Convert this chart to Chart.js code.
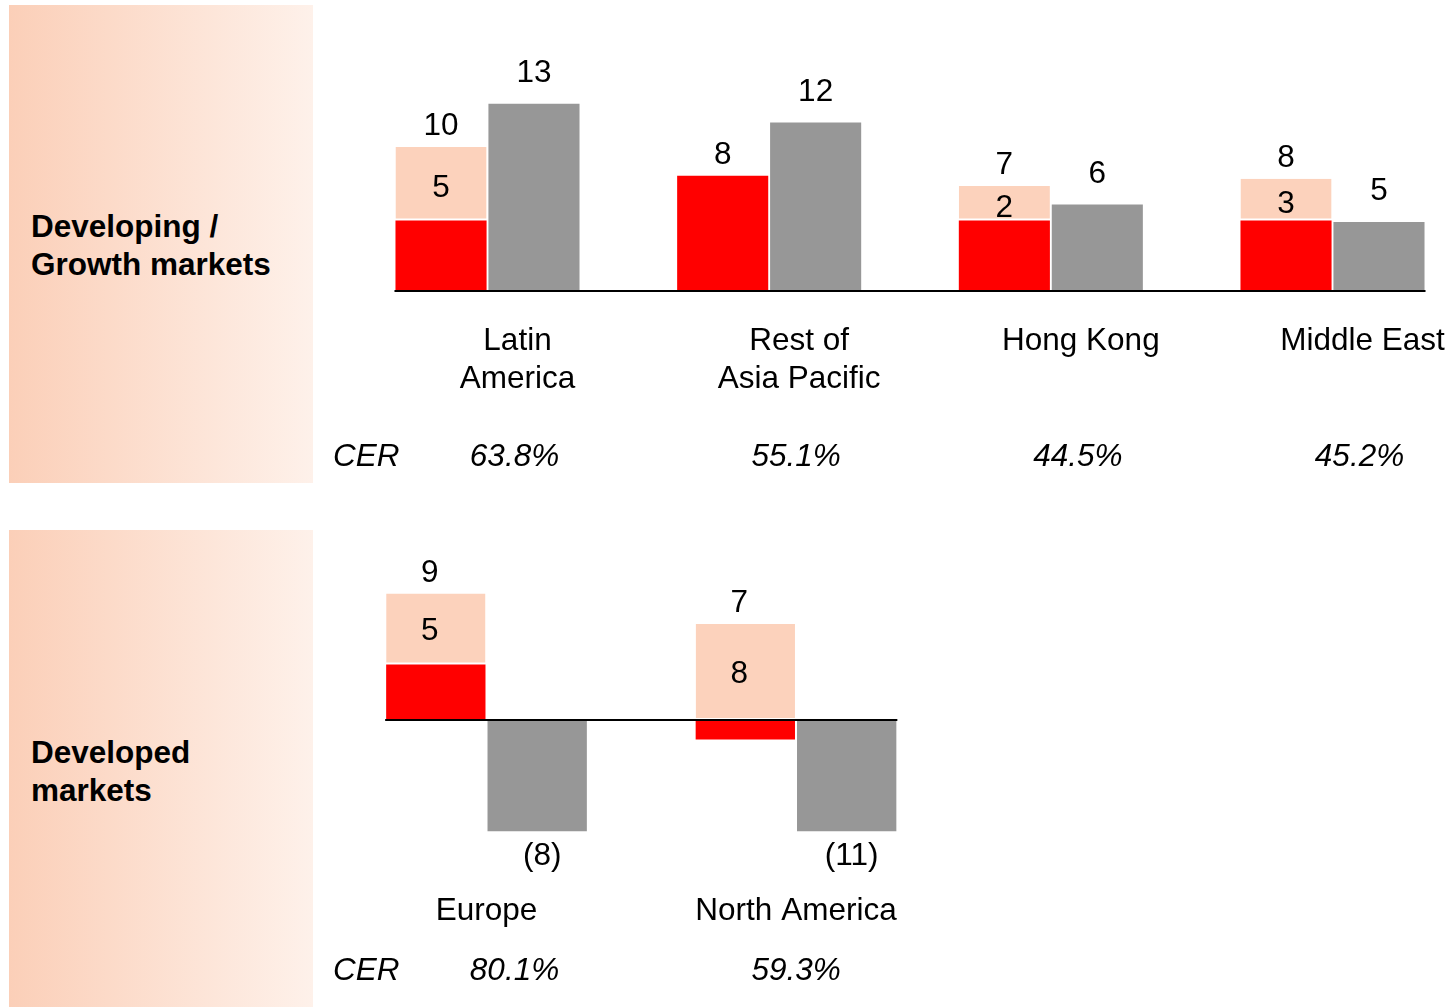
<!DOCTYPE html>
<html>
<head>
<meta charset="utf-8">
<script src="https://cdn.jsdelivr.net/npm/chart.js@4.4.0/dist/chart.umd.min.js"></script>
<style>
  html, body { margin: 0; padding: 0; background: #fff; overflow: hidden; }
  body { width: 1448px; height: 1007px; position: relative; font-family: 'Liberation Sans', Arial, sans-serif; }
  .panel { position: absolute; left: 9px; width: 304px; background: linear-gradient(to right, #fbcfb8, #fef1ea); }
  .panel-title { position: absolute; left: 31px; font-weight: bold; font-size: 31.5px; line-height: 38px; color: #000; }
  .chart-box { position: absolute; left: 0; width: 1448px; }
</style>
</head>
<body>
<div class="panel" style="top:5px;height:478px"></div>
<div class="panel" style="top:530px;height:477px"></div>
<div class="panel-title" style="top:207px">Developing /<br>Growth markets</div>
<div class="panel-title" style="top:733px">Developed<br>markets</div>

<div class="chart-box" style="top:0;height:500px"><canvas id="growthChart"></canvas></div>
<div class="chart-box" style="top:500px;height:507px"><canvas id="developedChart"></canvas></div>

<script>
// Developing / growth markets
const growthMarkets = ['Latin America', 'Rest of Asia Pacific', 'Hong Kong', 'Middle East'];
const growthLabelLines = [['Latin', 'America'], ['Rest of', 'Asia Pacific'], ['Hong Kong'], ['Middle East']];
const growthRed = [4.9, 8, 4.9, 4.9];
const growthPeach = [5.1, 0, 2.4, 2.9];
const growthGrey = [13, 11.7, 6, 4.8];
const growthTotalLabels = ['10', '8', '7', '8'];
const growthPeachLabels = ['5', '', '2', '3'];
const growthGreyLabels = ['13', '12', '6', '5'];
const growthCER = ['63.8%', '55.1%', '44.5%', '45.2%'];

// Developed markets
const developedMarkets = ['Europe', 'North America'];
const developedLabelLines = [['Europe'], ['North America']];
const developedRed = [4, -1.4];
const developedPeach = [5.1, 6.9];
const developedGrey = [-8, -8];
const developedTotalLabels = ['9', '7'];
const developedPeachLabels = ['5', '8'];
const developedGreyLabels = ['(8)', '(11)'];
const developedCER = ['80.1%', '59.3%'];

const RED = '#ff0000';
const PEACH = '#fcd2bc';
const GREY = '#979797';
const FONT = "31.5px 'Liberation Sans', Arial, sans-serif";
const FONT_ITALIC = "italic 31.5px 'Liberation Sans', Arial, sans-serif";

function groupCentre(chart, i) {
  const r = chart.getDatasetMeta(0).data[i];
  const g = chart.getDatasetMeta(2).data[i];
  return (r.x - r.width / 2 + g.x + g.width / 2) / 2;
}

// draws zero line, value labels, category names and CER row
const annotatePlugin = {
  id: 'annotate',
  afterDatasetsDraw(chart, args, opts) {
    const ctx = chart.ctx;
    const y0 = chart.scales.y.getPixelForValue(0);
    const red = chart.getDatasetMeta(0).data;
    const peach = chart.getDatasetMeta(1).data;
    const grey = chart.getDatasetMeta(2).data;
    const n = red.length;
    // CER column follows the top chart's columns
    const cerChart = opts.cerChart ? opts.cerChart() : chart;

    ctx.save();
    // axis line
    ctx.strokeStyle = '#000';
    ctx.lineWidth = 2;
    ctx.beginPath();
    ctx.moveTo(red[0].x - red[0].width / 2 - 1, y0);
    ctx.lineTo(grey[n - 1].x + grey[n - 1].width / 2 + 1, y0);
    ctx.stroke();

    ctx.fillStyle = '#000';
    ctx.font = FONT;
    ctx.textAlign = 'center';

    for (let i = 0; i < n; i++) {
      const r = red[i], p = peach[i], g = grey[i];
      // total above stacked bar
      const topY = Math.min(r.y, r.base, p.y, p.base);
      ctx.textBaseline = 'alphabetic';
      ctx.fillText(opts.totals[i], r.x + opts.stackDx, topY - 12);
      // peach segment label
      if (opts.peachLabels[i]) {
        ctx.textBaseline = 'middle';
        ctx.fillText(opts.peachLabels[i], p.x + opts.stackDx, (p.y + p.base) / 2 + opts.peachDy);
      }
      // grey label
      if (g.y < g.base) {
        ctx.textBaseline = 'alphabetic';
        ctx.fillText(opts.greyLabels[i], g.x + opts.greyDx, g.y - 22);
      } else {
        ctx.textBaseline = 'middle';
        ctx.fillText(opts.greyLabels[i], g.x + opts.greyDx, g.y + 25);
      }
      // category name
      const cx = groupCentre(chart, i);
      ctx.textBaseline = 'middle';
      opts.names[i].forEach((line, k) => {
        ctx.fillText(line, cx + opts.nameDx, y0 + opts.nameDy + k * 38);
      });
      // CER value
      ctx.font = FONT_ITALIC;
      ctx.fillText(opts.cer[i], groupCentre(cerChart, i) + 27, y0 + opts.cerDy);
      ctx.font = FONT;
    }
    ctx.font = FONT_ITALIC;
    ctx.textAlign = 'left';
    ctx.fillText('CER', 333, y0 + opts.cerDy);
    ctx.restore();
  }
};

function makeChart(id, labels, red, peach, grey, yMin, yMax, padding, pct, annotate) {
  return new Chart(document.getElementById(id), {
    type: 'bar',
    data: {
      labels,
      datasets: [
        { data: red, backgroundColor: RED, stack: 'split', clip: false,
          borderWidth: 0 },
        { data: peach, backgroundColor: PEACH, stack: 'split', clip: false,
          borderColor: '#fff', borderSkipped: false,
          borderWidth: { top: 0, left: 0, right: 0, bottom: 2 } },
        { data: grey, backgroundColor: GREY, stack: 'group', clip: false,
          borderWidth: 0 }
      ]
    },
    options: {
      responsive: true,
      maintainAspectRatio: false,
      animation: false,
      layout: { padding },
      datasets: { bar: { categoryPercentage: pct, barPercentage: 0.98 } },
      scales: {
        x: { display: false, stacked: true, offset: false },
        y: { display: false, stacked: true, min: yMin, max: yMax }
      },
      plugins: {
        legend: { display: false },
        tooltip: { enabled: false },
        annotate
      }
    },
    plugins: [annotatePlugin]
  });
}

const growthChart = makeChart('growthChart', growthMarkets, growthRed, growthPeach, growthGrey, 0, 20,
  { left: 487.5, right: 115.5, top: 3, bottom: 209 }, 0.66,
  { totals: growthTotalLabels, peachLabels: growthPeachLabels, greyLabels: growthGreyLabels,
    names: growthLabelLines, cer: growthCER,
    stackDx: 0, peachDy: 5, greyDx: 0, nameDx: 30, nameDy: 50, cerDy: 166 });

makeChart('developedChart', developedMarkets, developedRed, developedPeach, developedGrey, -15, 15,
  { left: 486.5, right: 652, top: 11.5, bottom: 78.5 }, 0.655,
  { totals: developedTotalLabels, peachLabels: developedPeachLabels, greyLabels: developedGreyLabels,
    names: developedLabelLines, cer: developedCER, cerChart: () => growthChart,
    stackDx: -6, peachDy: 2, greyDx: 5, nameDx: 0, nameDy: 191, cerDy: 251 });
</script>
</body>
</html>
